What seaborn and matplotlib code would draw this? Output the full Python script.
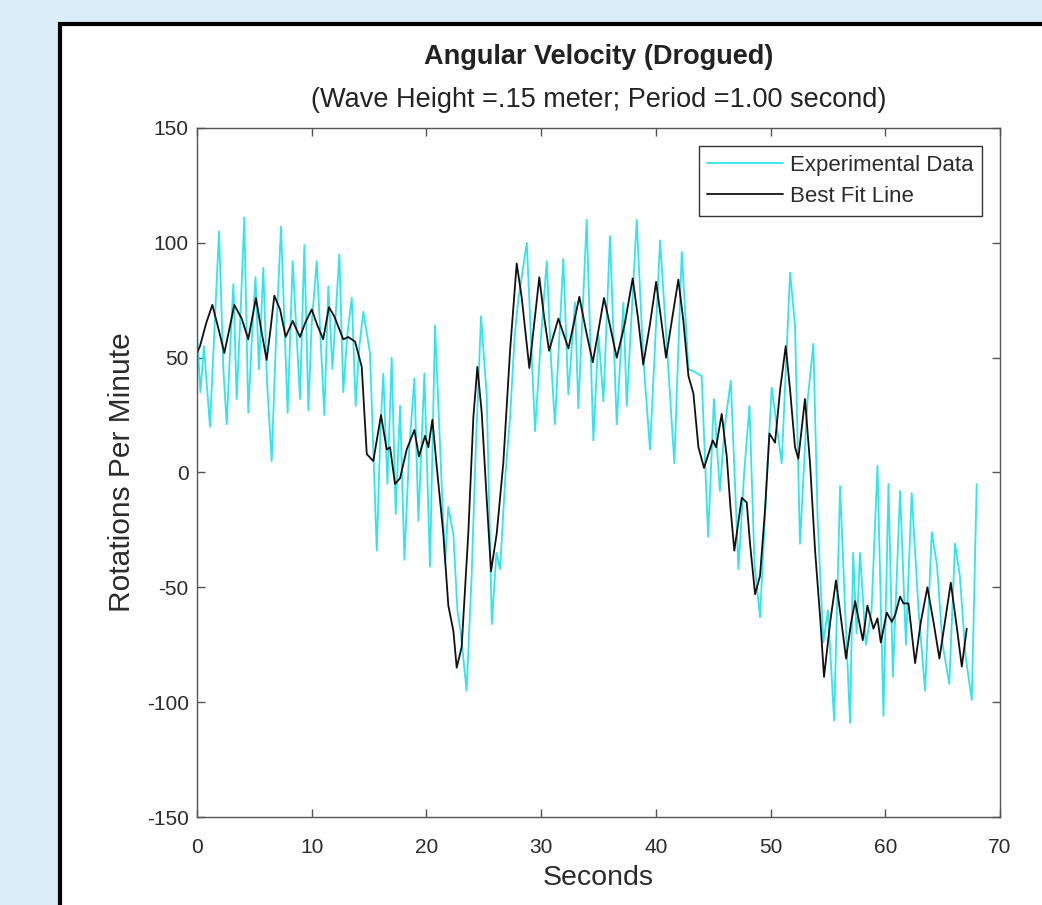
import matplotlib
matplotlib.use("Agg")
import matplotlib.pyplot as plt
import matplotlib.patches as mpatches
import seaborn as sns
import pandas as pd

exp_t = [0.0, 0.3, 0.6, 1.13, 1.5, 1.92, 2.3, 2.59, 2.9, 3.17, 3.46, 3.8, 4.12, 4.47, 4.8, 5.1, 5.4, 5.78,
         6.1, 6.51, 6.9, 7.32, 7.9, 8.34, 8.98, 9.36, 9.71, 10.0, 10.44, 11.1, 11.45, 11.8, 12.41, 12.75,
         13.1, 13.49, 13.83, 14.15, 14.5, 15.08, 15.67, 16.0, 16.24, 16.6, 16.97, 17.32, 17.7, 18.08, 18.5,
         18.95, 19.3, 19.82, 20.31, 20.75, 21.2, 21.62, 21.9, 22.35, 22.7, 23.0, 23.5, 23.94, 24.3, 24.76,
         25.26, 25.7, 26.1, 26.42, 26.9, 27.29, 27.7, 28.0, 28.75, 29.1, 29.47, 30.0, 30.49, 30.85, 31.2,
         31.93, 32.37, 32.95, 33.24, 33.97, 34.55, 35.0, 35.43, 36.0, 36.59, 37.17, 37.46, 38.33, 38.9,
         39.49, 40.37, 40.9, 41.61, 42.26, 42.84, 43.3, 43.99, 44.56, 45.06, 45.58, 46.0, 46.53, 47.2,
         47.7, 48.16, 48.6, 49.08, 49.6, 50.1, 50.97, 51.7, 52.13, 52.56, 53.2, 53.73, 54.1, 54.6, 55.0,
         55.54, 56.06, 56.5, 56.93, 57.2, 57.5, 57.8, 58.3, 58.8, 59.32, 59.84, 60.28, 60.66, 61.29,
         61.8, 62.3, 62.9, 63.47, 64.05, 64.5, 65.0, 65.58, 66.08, 66.5, 67.0, 67.54, 67.97]
exp_rpm = [60, 35, 55, 20, 60, 105, 45, 21, 55, 82, 32, 70, 111, 26, 60, 85, 45, 89,
           40, 5, 60, 107, 26, 92, 32, 99, 27, 65, 92, 25, 81, 45, 95, 35,
           60, 76, 29, 55, 70, 52, -34, 20, 43, -5, 50, -18, 29, -38, 10,
           41, -21, 43, -41, 64, 10, -40, -15, -27, -60, -70, -95, -45, 10, 68,
           33, -66, -35, -42, 0, 24, 60, 75, 100, 60, 18, 60, 92, 50, 21,
           93, 34, 74, 28, 110, 14, 60, 31, 103, 21, 74, 29, 110, 50,
           10, 101, 60, 4, 96, 45, 44, 42, -28, 32, -8, 20, 40, -42,
           0, 29, -40, -63, -10, 37, 4, 87, 64, -31, 30, 56, -20, -74, -60,
           -108, -6, -60, -109, -35, -70, -35, -75, -60, 3, -106, -5, -89, -8,
           -75, -9, -60, -95, -26, -40, -75, -92, -31, -45, -80, -99, -5]

# best fit line
fit_t = [0.0, 0.26, 0.8, 1.34, 1.9, 2.38, 2.8, 3.25, 3.9, 4.47, 5.14, 5.6, 6.07, 6.4, 6.74, 7.24, 7.73,
         8.34, 8.98, 9.42, 10.0, 10.5, 11.0, 11.5, 11.97, 12.75, 13.19, 13.78, 14.36, 14.8, 15.37, 16.04,
         16.54, 16.83, 17.26, 17.7, 18.28, 18.95, 19.35, 19.88, 20.17, 20.52, 20.9, 21.47, 21.91, 22.35,
         22.64, 23.07, 23.65, 24.09, 24.44, 24.82, 25.26, 25.63, 26.13, 26.7, 27.29, 27.87, 28.31, 28.97,
         29.4, 29.84, 30.25, 30.69, 31.5, 32.38, 32.85, 33.33, 33.9, 34.5, 35.0, 35.48, 36.0, 36.59, 37.3,
         37.98, 38.45, 38.9, 39.5, 40.02, 40.45, 40.89, 41.45, 41.96, 42.4, 42.84, 43.27, 43.71, 44.2,
         44.96, 45.25, 45.74, 46.18, 46.5, 46.84, 47.49, 47.92, 48.21, 48.65, 49.08, 49.52, 49.9, 50.39,
         50.83, 51.32, 51.7, 52.13, 52.42, 53.0, 53.44, 53.88, 54.32, 54.66, 55.2, 55.7, 56.1, 56.58, 57.0,
         57.37, 58.04, 58.44, 58.97, 59.32, 59.61, 60.13, 60.57, 60.86, 61.29, 61.58, 62.02, 62.6, 63.1,
         63.67, 64.2, 64.72, 65.2, 65.71, 66.2, 66.67, 67.1]
fit_rpm = [52, 55, 65, 73, 62, 52, 62, 73, 67, 58, 76, 62, 49, 62, 77, 71, 59,
           66, 59, 65, 71, 64, 58, 72, 68, 58, 59, 57, 46, 8, 5, 25,
           10, 11, -5, -2.5, 10, 18.5, 7, 16, 11, 23, 2.5, -26.5, -58, -69,
           -85, -76, -26.5, 24, 46, 26, -12, -43, -26.5, 4, 53, 91, 76, 45.5,
           65, 85, 68, 53, 67, 54, 65, 76.5, 62, 48, 62, 76, 64, 50, 65,
           84.5, 67, 47, 65, 83, 67, 50, 68, 84, 66, 42, 34.5, 11, 2,
           14, 11, 25.5, 7, -15, -34, -11, -13, -31, -53, -45, -16, 17, 13,
           36, 55, 36, 11, 6, 32, 4, -34, -63, -89, -65, -47, -62, -81, -66,
           -56, -73, -58, -68, -63.5, -74, -61, -65, -62, -54, -57, -57, -83, -65,
           -50, -65, -81, -65, -48, -66, -84.5, -68]

x_ticks = [0, 10, 20, 30, 40, 50, 60, 70]
y_ticks = [-150, -100, -50, 0, 50, 100, 150]

sns.set_style("ticks")
plt.rcParams['font.family'] = ['Liberation Sans', 'DejaVu Sans']
plt.rcParams['axes.unicode_minus'] = False

W, H = 1042, 905
fig = plt.figure(figsize=(W / 100, H / 100), dpi=100)
fig.patch.set_facecolor("#dcedfa")

# white panel with thick black frame, behind the axes
panel = mpatches.Rectangle((60 / W, -0.05), 1.2, 1 - 24 / H + 0.05, transform=fig.transFigure,
                           facecolor="white", edgecolor="black", linewidth=3, zorder=-5)
fig.patches.append(panel)

ax = fig.add_axes([197 / W, 1 - 817 / H, (1000 - 197) / W, (817 - 128) / H])
ax.set_zorder(2)
ax.set_facecolor("white")

exp_df = pd.DataFrame({"Seconds": exp_t, "RPM": exp_rpm})
fit_df = pd.DataFrame({"Seconds": fit_t, "RPM": fit_rpm})

sns.lineplot(data=exp_df, x="Seconds", y="RPM", ax=ax, color="#2ee6ec", linewidth=1.3,
             label="Experimental Data", sort=False)
sns.lineplot(data=fit_df, x="Seconds", y="RPM", ax=ax, color="#111111", linewidth=1.3,
             label="Best Fit Line", sort=False)

ax.set_xlim(0, 70)
ax.set_ylim(-150, 150)
ax.set_xticks(x_ticks)
ax.set_yticks(y_ticks)

grey = "#2b2b2b"
for s in ax.spines.values():
    s.set_visible(True)
    s.set_color("#555555")
    s.set_linewidth(1.0)
ax.tick_params(direction="in", length=6, width=1, colors="#555555", labelcolor=grey,
               labelsize=15, top=True, right=True)
ax.tick_params(axis="x", pad=15)
ax.tick_params(axis="y", pad=6)

ax.set_xlabel("Seconds", fontsize=20.5, color=grey, labelpad=6)
ax.set_ylabel("Rotations Per Minute", fontsize=21.5, color=grey, labelpad=8)

fig.text((197 + 1000) / 2 / W, 1 - 57 / H, "Angular Velocity (Drogued)", ha="center", va="center",
         fontsize=19.5, fontweight="bold", color="#222222")
fig.text((197 + 1000) / 2 / W, 1 - 100 / H, "(Wave Height =.15 meter; Period =1.00 second)",
         ha="center", va="center", fontsize=19.5, color="#222222")

leg = ax.legend(loc="upper right", fontsize=16, frameon=True, fancybox=False, handlelength=3.4,
                handletextpad=0.3, borderpad=0.4, labelspacing=0.45, borderaxespad=0.8)
leg.get_frame().set_edgecolor("#333333")
leg.get_frame().set_linewidth(1.0)
leg.get_frame().set_alpha(1)
for t in leg.get_texts():
    t.set_color(grey)

fig.savefig("out.png", dpi=100, facecolor=fig.get_facecolor())
